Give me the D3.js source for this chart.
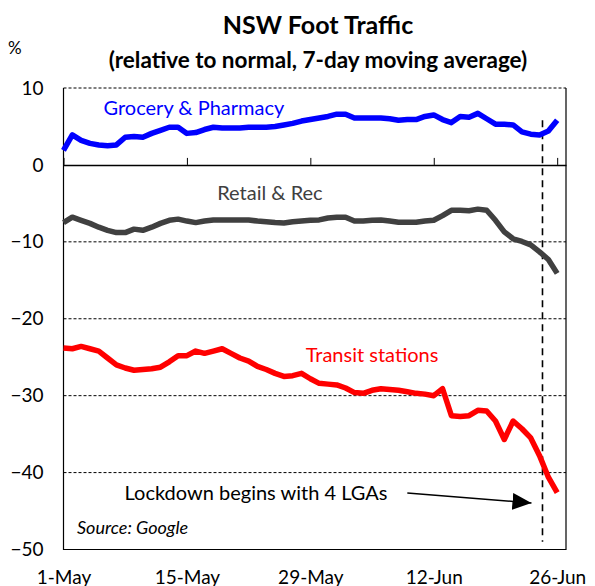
<!DOCTYPE html>
<html>
<head>
<meta charset="utf-8">
<script src="https://cdn.jsdelivr.net/npm/d3@7"></script>
<style>
body { margin: 0; background: #fff; }
text { font-family: Lato, "Noto Sans", sans-serif; }
</style>
</head>
<body>
<svg id="chart" width="595" height="586"></svg>
<script>
// one value per day, 1-May .. 26-Jun
var firstDay = new Date(2021, 4, 1);
var axisEnd = new Date(2021, 5, 27);

var grocery = [1.9, 3.9, 3.2, 2.8, 2.6, 2.5, 2.6, 3.6, 3.7, 3.6,
               4.1, 4.5, 4.9, 4.9, 4.1, 4.2, 4.6, 4.9, 4.8, 4.8,
               4.8, 4.9, 4.9, 4.9, 5.0, 5.2, 5.4, 5.7, 5.9, 6.1,
               6.3, 6.6, 6.6, 6.1, 6.1, 6.1, 6.1, 6.0, 5.8, 5.9,
               5.9, 6.3, 6.5, 5.9, 5.5, 6.3, 6.2, 6.7, 6.0, 5.3,
               5.3, 5.2, 4.3, 4.0, 3.9, 4.4, 5.8];

var retail = [-7.5, -6.8, -7.2, -7.6, -8.1, -8.5, -8.8, -8.8, -8.35, -8.5,
              -8.1, -7.6, -7.2, -7.05, -7.3, -7.5, -7.3, -7.15, -7.15, -7.15,
              -7.15, -7.15, -7.3, -7.4, -7.5, -7.55, -7.4, -7.3, -7.2, -7.15,
              -6.9, -6.8, -6.8, -7.3, -7.3, -7.2, -7.15, -7.3, -7.45, -7.45,
              -7.45, -7.3, -7.2, -6.6, -5.9, -5.9, -5.95, -5.75, -5.9, -7.2,
              -8.7, -9.6, -9.95, -10.4, -11.3, -12.3, -14.1];

var transit = [-23.8, -23.9, -23.6, -23.9, -24.2, -25.1, -26.0, -26.4, -26.7, -26.6,
               -26.5, -26.3, -25.6, -24.8, -24.8, -24.2, -24.5, -24.2, -23.9, -24.5,
               -25.1, -25.5, -26.2, -26.6, -27.1, -27.5, -27.4, -27.1, -27.8, -28.4,
               -28.5, -28.6, -29.0, -29.6, -29.7, -29.3, -29.1, -29.2, -29.3, -29.5,
               -29.7, -29.8, -30.0, -29.1, -32.6, -32.7, -32.6, -31.9, -32.0, -33.3,
               -35.7, -33.3, -34.3, -35.5, -37.8, -40.6, -42.6];

var tickDates = [new Date(2021, 4, 1), new Date(2021, 4, 15), new Date(2021, 4, 29),
                 new Date(2021, 5, 12), new Date(2021, 5, 26)];
var tickLabels = ["1-May", "15-May", "29-May", "12-Jun", "26-Jun"];
var yTicks = [10, 0, -10, -20, -30, -40, -50];
var gridTicks = [-10, -20, -30, -40];

var lockdownDay = new Date(2021, 5, 24, 8);

var svg;

document.addEventListener('DOMContentLoaded', function() {
    svg = d3.select('#chart');
    drawChart();
});

function drawChart() {
    var days = d3.timeDay.range(firstDay, d3.timeDay.offset(firstDay, grocery.length));

    var x = d3.scaleTime().domain([firstDay, axisEnd]).range([63.5, 566]);
    var y = d3.scaleLinear().domain([-50, 10]).range([549.5, 88]);

    // titles
    svg.append("text").attr("x", 318).attr("y", 34)
        .attr("text-anchor", "middle").attr("font-size", 25).attr("font-weight", "bold")
        .text("NSW Foot Traffic");
    svg.append("text").attr("x", 318).attr("y", 68)
        .attr("text-anchor", "middle").attr("font-size", 22.5).attr("font-weight", "bold")
        .text("(relative to normal, 7-day moving average)");
    svg.append("text").attr("x", 8).attr("y", 54)
        .attr("font-size", 17).text("%");

    // dashed gridlines
    svg.append("g").selectAll("line")
        .data(gridTicks.concat([10]))
        .enter().append("line")
        .attr("x1", x.range()[0]).attr("x2", x.range()[1])
        .attr("y1", d => y(d)).attr("y2", d => y(d))
        .attr("stroke", "#000").attr("stroke-width", 1)
        .attr("stroke-dasharray", "3,2");

    // frame
    svg.append("path")
        .attr("d", "M" + x.range()[1] + "," + y(10) + "V" + y(-50) + "H" + x.range()[0] + "V" + y(10))
        .attr("fill", "none").attr("stroke", "#000").attr("stroke-width", 1.2);

    // zero line with ticks pointing up
    var zeroAxis = svg.append("g")
        .attr("transform", "translate(0," + y(0) + ")")
        .call(d3.axisBottom(x).tickValues(tickDates).tickSize(-7).tickFormat("").tickSizeOuter(0));
    zeroAxis.select(".domain").attr("stroke-width", 1.5);

    // date labels at bottom
    var bottomAxis = svg.append("g")
        .attr("transform", "translate(0,567)")
        .call(d3.axisBottom(x).tickValues(tickDates).tickSize(0)
              .tickFormat((d, i) => tickLabels[i]));
    bottomAxis.select(".domain").remove();
    bottomAxis.selectAll("text").attr("font-size", 19).attr("fill", "#000")
        .style("font-family", "Lato, 'Noto Sans', sans-serif");

    var leftAxis = svg.append("g")
        .attr("transform", "translate(" + x.range()[0] + ",0)")
        .call(d3.axisLeft(y).tickValues(yTicks).tickSize(0).tickPadding(20));
    leftAxis.select(".domain").remove();
    leftAxis.selectAll("text").attr("font-size", 19).attr("fill", "#000")
        .style("font-family", "Lato, 'Noto Sans', sans-serif");

    // lockdown marker
    svg.append("line")
        .attr("x1", x(lockdownDay)).attr("x2", x(lockdownDay))
        .attr("y1", y(5.8)).attr("y2", y(-49))
        .attr("stroke", "#000").attr("stroke-width", 1.6)
        .attr("stroke-dasharray", "7,5");

    var line = d3.line()
        .x((d, i) => x(days[i]))
        .y(d => y(d));

    var series = [
        {vals: grocery, color: "#0000ff"},
        {vals: retail, color: "#404040"},
        {vals: transit, color: "#ff0000"}
    ];
    svg.selectAll(".series")
        .data(series)
        .enter().append("path")
        .attr("class", "series")
        .attr("d", d => line(d.vals))
        .attr("fill", "none")
        .attr("stroke", d => d.color)
        .attr("stroke-width", 5.5)
        .attr("stroke-linejoin", "round");

    // series labels
    svg.append("text").attr("x", x(new Date(2021, 4, 15, 19))).attr("y", y(7.4))
        .attr("dy", "0.35em").attr("text-anchor", "middle").attr("font-size", 20)
        .attr("fill", "#0000ff").text("Grocery & Pharmacy");
    svg.append("text").attr("x", x(new Date(2021, 4, 24, 10))).attr("y", y(-3.6))
        .attr("dy", "0.35em").attr("text-anchor", "middle").attr("font-size", 20)
        .attr("fill", "#404040").text("Retail & Rec");
    svg.append("text").attr("x", x(new Date(2021, 5, 5))).attr("y", y(-24.7))
        .attr("dy", "0.35em").attr("text-anchor", "middle").attr("font-size", 20)
        .attr("fill", "#ff0000").text("Transit stations");

    // annotation + arrow
    svg.append("defs").append("marker")
        .attr("id", "head")
        .attr("markerUnits", "userSpaceOnUse")
        .attr("markerWidth", 20).attr("markerHeight", 18)
        .attr("refX", 19).attr("refY", 8.5)
        .attr("orient", "auto")
        .append("path").attr("d", "M0,0L19,8.5L0,17Z").attr("fill", "#000");

    svg.append("line")
        .attr("x1", x(new Date(2021, 5, 9))).attr("y1", y(-42.65))
        .attr("x2", x(new Date(2021, 5, 23, 2))).attr("y2", y(-43.95))
        .attr("stroke", "#000").attr("stroke-width", 1.5)
        .attr("marker-end", "url(#head)");

    svg.append("text").attr("x", x(new Date(2021, 4, 22, 20))).attr("y", y(-42.65))
        .attr("dy", "0.35em").attr("text-anchor", "middle").attr("font-size", 20)
        .attr("fill", "#000").text("Lockdown begins with 4 LGAs");

    svg.append("text").attr("x", 77).attr("y", 534)
        .attr("font-size", 18).attr("font-style", "italic")
        .text("Source: Google");
}
</script>
</body>
</html>
